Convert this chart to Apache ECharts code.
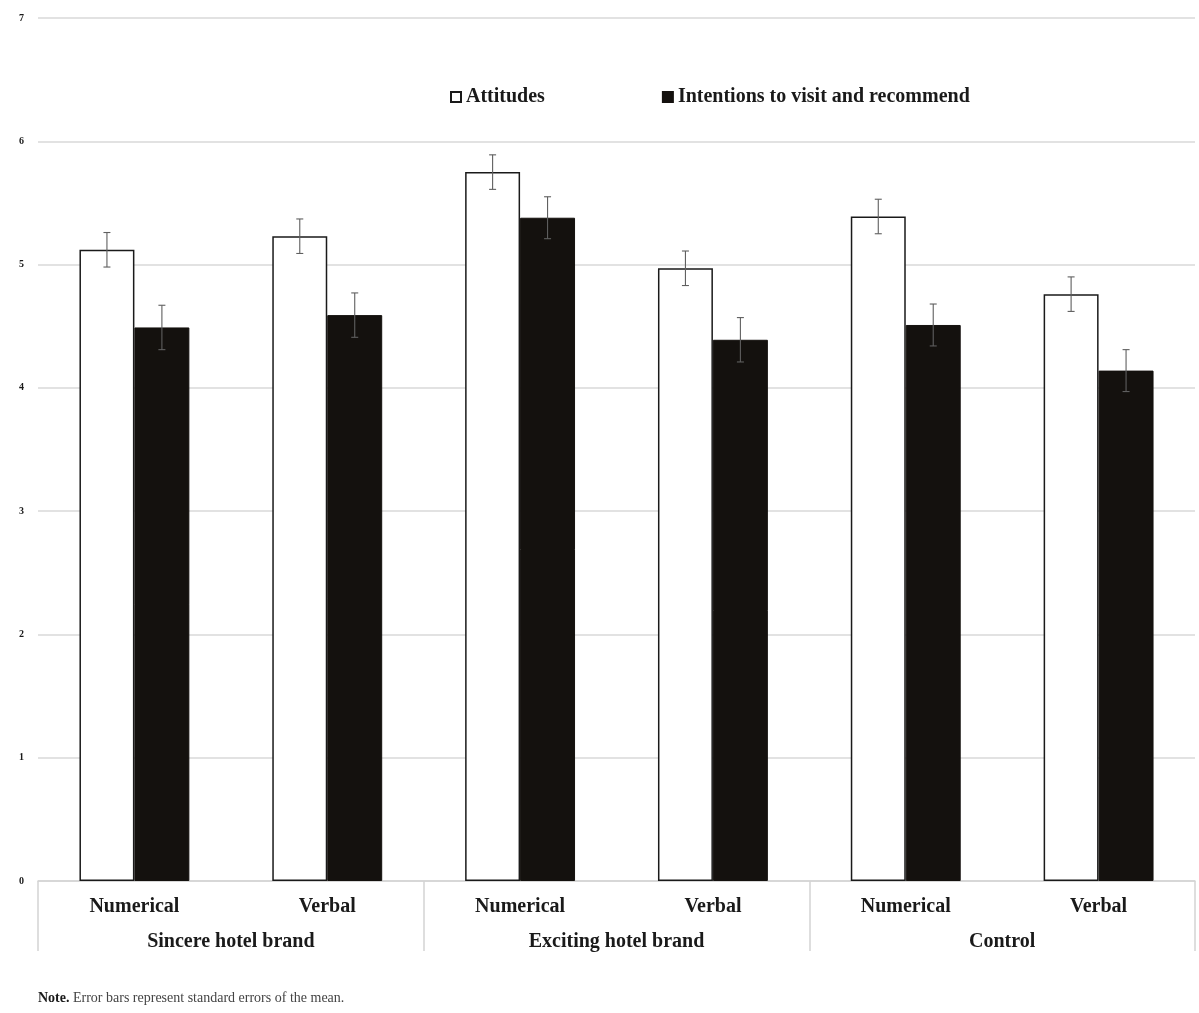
<!DOCTYPE html>
<html>
<head>
<meta charset="utf-8">
<script src="https://cdn.jsdelivr.net/npm/echarts@6/dist/echarts.min.js"></script>
<style>html,body{margin:0;padding:0;background:#fff}#c{width:1199px;height:1013px}</style>
</head>
<body>
<div id="c"></div>
<script>
const subCategories = ['Numerical', 'Verbal', 'Numerical', 'Verbal', 'Numerical', 'Verbal'];
const groups = ['Sincere hotel brand', 'Exciting hotel brand', 'Control'];
const attitudes = [5.12, 5.23, 5.75, 4.97, 5.39, 4.76];
const attitudesSE = [0.14, 0.14, 0.14, 0.14, 0.14, 0.14];
const intentions = [4.49, 4.59, 5.38, 4.39, 4.51, 4.14];
const intentionsSE = [0.18, 0.18, 0.17, 0.18, 0.17, 0.17];
const yTicks = [0, 1, 2, 3, 4, 5, 6, 7];

const FONT = '"Liberation Serif", "DejaVu Serif", serif';
const BAR_FRAC = 0.285;

function errorSeries(name, means, ses, side) {
  return {
    type: 'custom',
    name: name + ' SE',
    xAxisIndex: 0,
    z: 5,
    silent: true,
    data: means.map((m, i) => [i, m, ses[i]]),
    renderItem: function (params, api) {
      const i = api.value(0), m = api.value(1), se = api.value(2);
      const catW = api.size([1, 0])[0];
      const off = side * catW * BAR_FRAC / 2;
      const hi = api.coord([i, m + se]);
      const lo = api.coord([i, m - se]);
      const x = hi[0] + off;
      const cap = 3.5;
      const style = { stroke: '#5f5f5f', lineWidth: 1.1 };
      return {
        type: 'group',
        children: [
          { type: 'line', shape: { x1: x, y1: hi[1], x2: x, y2: lo[1] }, style: style },
          { type: 'line', shape: { x1: x - cap, y1: hi[1], x2: x + cap, y2: hi[1] }, style: style },
          { type: 'line', shape: { x1: x - cap, y1: lo[1], x2: x + cap, y2: lo[1] }, style: style }
        ]
      };
    }
  };
}

const chart = echarts.init(document.getElementById('c'));
chart.setOption({
  backgroundColor: '#ffffff',
  animation: false,
  textStyle: { fontFamily: FONT },
  legend: {
    top: 82,
    left: 445,
    itemGap: 117,
    itemWidth: 10,
    itemHeight: 10,
    icon: 'rect',
    textStyle: { fontFamily: FONT, fontWeight: 'bold', fontSize: 20, color: '#1a1a1a', padding: [0, 0, 0, 0] },
    data: ['Attitudes', 'Intentions to visit and recommend']
  },
  grid: { left: 38, right: 4, top: 18, bottom: 132, containLabel: false },
  xAxis: [
    {
      type: 'category',
      data: subCategories,
      axisLine: { show: true, lineStyle: { color: '#d4d4d4', width: 1.5 } },
      axisTick: { show: false },
      axisLabel: { fontFamily: FONT, fontWeight: 'bold', fontSize: 20, color: '#1a1a1a', margin: 16 }
    },
    {
      type: 'category',
      data: groups,
      position: 'bottom',
      axisLine: { show: false },
      axisTick: { show: true, length: 70, lineStyle: { color: '#d4d4d4', width: 1.5 } },
      axisLabel: { fontFamily: FONT, fontWeight: 'bold', fontSize: 20, color: '#1a1a1a', margin: 51 }
    }
  ],
  yAxis: {
    type: 'value',
    min: 0,
    max: 7,
    interval: 1,
    axisLine: { show: false },
    axisTick: { show: false },
    splitLine: { lineStyle: { color: '#d9d9d9', width: 1.5 } },
    axisLabel: { fontFamily: FONT, fontWeight: 'bold', fontSize: 10, color: '#1a1a1a', margin: 14,
      formatter: v => yTicks.includes(v) ? String(v) : '' }
  },
  series: [
    {
      name: 'Attitudes',
      type: 'bar',
      xAxisIndex: 0,
      data: attitudes,
      barWidth: (BAR_FRAC * 100) + '%',
      barGap: '0%',
      itemStyle: { color: '#ffffff', borderColor: '#1a1a1a', borderWidth: 1.5 }
    },
    {
      name: 'Intentions to visit and recommend',
      type: 'bar',
      xAxisIndex: 0,
      data: intentions,
      barWidth: (BAR_FRAC * 100) + '%',
      barGap: '0%',
      itemStyle: { color: '#14110e', borderColor: '#14110e', borderWidth: 1 }
    },
    errorSeries('Attitudes', attitudes, attitudesSE, -1),
    errorSeries('Intentions', intentions, intentionsSE, 1)
  ],
  graphic: [
    {
      type: 'text',
      left: 38,
      top: 991,
      style: {
        text: '{b|Note.} Error bars represent standard errors of the mean.',
        fontFamily: FONT,
        fontSize: 14,
        fill: '#444',
        rich: { b: { fontFamily: FONT, fontWeight: 'bold', fontSize: 14, fill: '#1a1a1a' } }
      }
    }
  ]
});
</script>
</body>
</html>
